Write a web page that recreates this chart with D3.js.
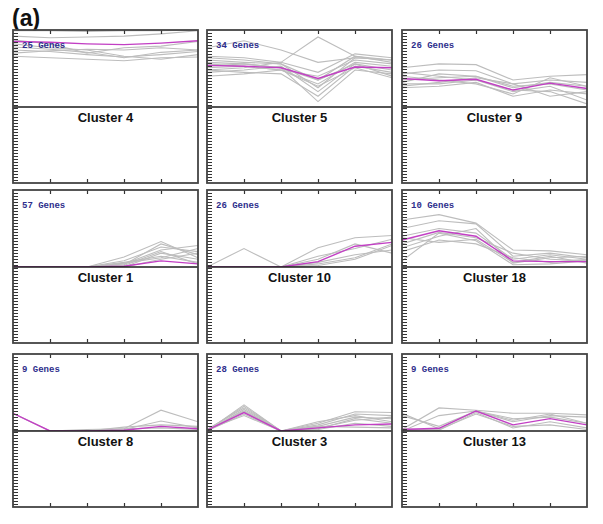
<!DOCTYPE html>
<html>
<head>
<meta charset="utf-8">
<script src="https://cdn.jsdelivr.net/npm/d3@7"></script>
<style>
  body { margin: 0; background: #fff; }
  .genes { font-family: 'Liberation Mono', monospace; font-weight: bold; font-size: 9px; fill: #2e2e8c; }
  .title { font-family: 'Liberation Sans', Arial, sans-serif; font-weight: bold; font-size: 13px; fill: #111; }
  .tag { font-family: 'Liberation Sans', Arial, sans-serif; font-weight: bold; font-size: 23px; fill: #111; }
</style>
</head>
<body>
<div id="chart"></div>
<script>
'use strict';

//#region data - values are heights above the baseline, 0..100 of the profile area
let timepoints = [0, 1, 2, 3, 4, 5];

let clusterNames = ['Cluster 4', 'Cluster 5', 'Cluster 9',
                    'Cluster 1', 'Cluster 10', 'Cluster 18',
                    'Cluster 8', 'Cluster 3', 'Cluster 13'];

let geneCounts = [25, 34, 26, 57, 26, 10, 9, 28, 9];

let c4Mean = [85, 84, 82, 81, 83, 86];
let c4Genes = [
  [99, 99, 98, 99, 99, 100],
  [92, 90, 91, 92, 95, 99],
  [78, 75, 71, 64, 71, 74],
  [74, 72, 68, 65, 68, 72],
  [82, 77, 74, 66, 62, 68],
  [70, 73, 75, 74, 77, 74],
  [87, 82, 70, 77, 79, 85],
  [66, 64, 62, 60, 64, 65]
];

let c5Mean = [54, 53, 51, 37, 52, 51];
let c5Genes = [
  [77, 86, 74, 58, 64, 61],
  [48, 51, 58, 91, 66, 61],
  [58, 56, 51, 7, 48, 43],
  [61, 58, 56, 25, 64, 61],
  [45, 48, 53, 20, 56, 48],
  [51, 53, 48, 30, 58, 53],
  [64, 61, 56, 35, 66, 58],
  [40, 43, 48, 27, 51, 38],
  [56, 53, 48, 40, 61, 56],
  [48, 45, 43, 14, 53, 45],
  [66, 64, 58, 45, 69, 64],
  [53, 56, 51, 35, 56, 40]
];

let c9Mean = [37, 34, 36, 22, 31, 24];
let c9Genes = [
  [51, 56, 55, 35, 40, 42],
  [43, 48, 47, 30, 35, 32],
  [35, 38, 40, 25, 32, 27],
  [30, 30, 35, 20, 27, 9],
  [25, 27, 32, 14, 22, 17],
  [40, 35, 30, 17, 38, 27],
  [32, 43, 40, 27, 30, 22],
  [45, 40, 35, 22, 20, 4],
  [27, 32, 38, 30, 14, 20]
];

let c1Mean = [0, 0, 0, 1, 8, 4];
let c1Genes = [
  [0, 0, 0, 13, 33, 12],
  [0, 0, 0, 8, 26, 20],
  [0, 0, 0, 4, 22, 28],
  [0, 0, 0, 0, 18, 10],
  [0, 0, 0, 6, 14, 6],
  [0, 0, 0, 3, 30, 16],
  [0, 0, 0, 0, 10, 18],
  [0, 0, 0, 2, 20, 4],
  [0, 0, 0, 5, 12, 24]
];

let c10Mean = [0, 0, 0, 7, 27, 32];
let c10Genes = [
  [0, 24, 0, 0, 0, 0],
  [0, 0, 0, 25, 38, 41],
  [0, 0, 0, 14, 24, 36],
  [0, 0, 0, 6, 16, 22],
  [0, 0, 0, 2, 10, 28],
  [0, 0, 0, 10, 30, 18],
  [0, 0, 0, 4, 12, 30]
];

let c18Mean = [35, 47, 40, 8, 7, 7];
let c18Genes = [
  [61, 68, 57, 22, 21, 16],
  [50, 60, 56, 14, 18, 12],
  [40, 50, 44, 10, 16, 10],
  [30, 45, 38, 18, 10, 8],
  [25, 40, 50, 5, 12, 14],
  [8, 44, 34, 3, 4, 8],
  [20, 35, 30, 12, 6, 10],
  [38, 32, 36, 6, 14, 5]
];

let c8Mean = [23, 0, 0, 1, 6, 3];
let c8Genes = [
  [23, 0, 0, 3, 27, 12],
  [0, 0, 0, 2, 13, 4],
  [0, 0, 0, 5, 8, 6],
  [0, 0, 2, 3, 4, 2]
];

let c3Mean = [1, 24, 0, 4, 8, 9];
let c3Genes = [
  [0, 34, 0, 10, 25, 24],
  [2, 30, 0, 8, 22, 20],
  [0, 28, 0, 6, 18, 16],
  [1, 26, 0, 12, 20, 12],
  [0, 22, 0, 4, 14, 18],
  [2, 20, 0, 2, 10, 6],
  [0, 25, 0, 6, 5, 4],
  [1, 32, 0, 3, 16, 10]
];

let c13Mean = [2, 3.5, 26, 8, 16, 8];
let c13Genes = [
  [23, 3, 26, 14, 22, 10],
  [2, 30, 27, 23, 23, 21],
  [20, 6, 26, 12, 20, 18],
  [0, 20, 26, 16, 18, 10],
  [3, 1, 24, 4, 12, 4],
  [1, 2, 22, 6, 8, 2]
];

let meanProfiles = [c4Mean, c5Mean, c9Mean, c1Mean, c10Mean, c18Mean, c8Mean, c3Mean, c13Mean];
let geneProfiles = [c4Genes, c5Genes, c9Genes, c1Genes, c10Genes, c18Genes, c8Genes, c3Genes, c13Genes];
//#endregion

//#region layout
let width = 603, height = 524;
let colLeft = [13, 207, 402];    //left edge of each panel column
let rowTop  = [30, 190, 354];    //top edge of each panel row
let pw = 185;                    //panel width
let ph = 77;                     //height of the profile area
let panelH = 153;                //full panel height incl. the empty lower half
//#endregion

let svg = d3.select('#chart').append('svg').attr('width', width).attr('height', height);

svg.append('text').attr('class', 'tag').attr('x', 12).attr('y', 26).text('(a)');

let x = d3.scaleLinear().domain([0, 5]).range([0, pw]);
let y = d3.scaleLinear().domain([0, 100]).range([ph, 0]);
let yFull = d3.scaleLinear().domain([0, panelH]).range([0, panelH]);   //for the minor ticks on the left

let line = d3.line()
  .x(function(d, i) { return x(timepoints[i]); })
  .y(function(d) { return y(d); });

svg.append('defs').append('clipPath').attr('id', 'clip')
  .append('rect').attr('x', 0).attr('y', 0).attr('width', pw).attr('height', ph);

clusterNames.forEach(function(name, k) {
  let g = svg.append('g')
    .attr('transform', 'translate(' + colLeft[k % 3] + ',' + rowTop[Math.floor(k / 3)] + ')');

  //profiles
  let plot = g.append('g').attr('clip-path', 'url(#clip)');
  geneProfiles[k].forEach(function(p) {
    plot.append('path').attr('d', line(p))
      .attr('fill', 'none').attr('stroke', '#bdbdbd').attr('stroke-width', 1.1);
  });
  plot.append('path').attr('d', line(meanProfiles[k]))
    .attr('fill', 'none').attr('stroke', '#c23fc4').attr('stroke-width', 1.4);

  //divider at the baseline
  g.append('line').attr('x1', 0).attr('x2', pw).attr('y1', y(0)).attr('y2', y(0))
    .attr('stroke', '#1a1a1a').attr('stroke-width', 1.3);

  //top and bottom tick marks
  let topAxis = d3.axisBottom(x).tickValues([1, 2, 3, 4]).tickSize(4).tickFormat('');
  g.append('g').call(topAxis).call(function(a) { a.select('.domain').remove(); })
    .selectAll('line').attr('stroke', '#333').attr('stroke-width', 1.2);

  let bottomAxis = d3.axisTop(x).tickValues([1, 2, 3, 4]).tickSize(4).tickFormat('');
  g.append('g').attr('transform', 'translate(0,' + panelH + ')')
    .call(bottomAxis).call(function(a) { a.select('.domain').remove(); })
    .selectAll('line').attr('stroke', '#333').attr('stroke-width', 1.2);

  //dense minor ticks on the left
  let leftAxis = d3.axisRight(yFull).tickValues(d3.range(3, panelH, 3)).tickSize(5).tickFormat('');
  g.append('g').call(leftAxis).call(function(a) { a.select('.domain').remove(); })
    .selectAll('line').attr('stroke', '#333').attr('stroke-width', 1);

  //frame
  g.append('rect').attr('x', 0).attr('y', 0).attr('width', pw).attr('height', panelH)
    .attr('fill', 'none').attr('stroke', '#444').attr('stroke-width', 1.8);

  g.append('text').attr('class', 'genes').attr('x', 9).attr('y', 18)
    .text(geneCounts[k] + ' Genes');

  g.append('text').attr('class', 'title').attr('x', pw / 2).attr('y', ph + 15)
    .attr('text-anchor', 'middle').text(name);
});
</script>
</body>
</html>
